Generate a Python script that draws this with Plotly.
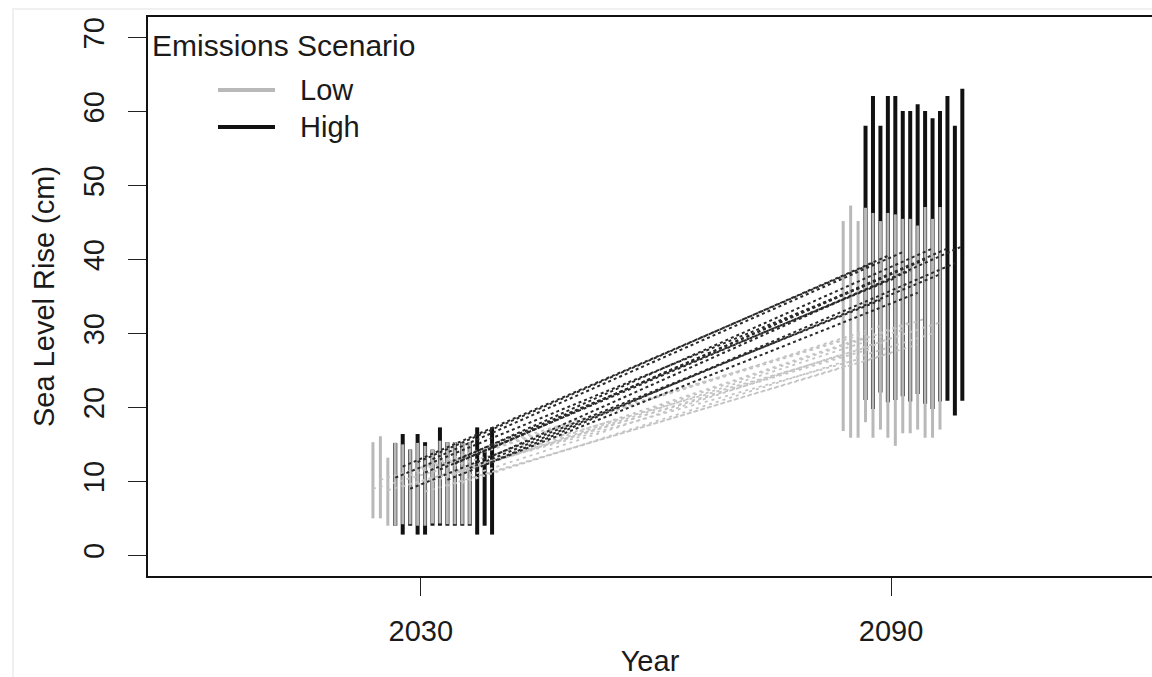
import plotly.graph_objects as go

# ---------------- data ----------------
years = [2030, 2090]
scenarios = ["Low", "High"]

# Low emissions scenario, 14 models: lower bound, median, upper bound (cm)
low_lo_2030 = [5.0, 5.0, 4.0, 4.0, 4.2, 4.2, 4.0, 4.0, 4.3, 4.3, 4.2, 4.2, 4.2, 4.2]
low_med_2030 = [9.0, 10.2, 8.8, 10.5, 9.3, 10.8, 9.6, 8.6, 10.0, 10.6, 9.4, 11.0, 9.8, 10.8]
low_hi_2030 = [15.3, 16.1, 13.2, 15.2, 15.0, 14.3, 15.2, 14.8, 14.3, 15.5, 15.3, 15.3, 15.3, 15.3]

low_lo_2090 = [16.8, 15.9, 15.9, 18.0, 15.9, 17.0, 15.9, 14.8, 16.5, 16.5, 17.0, 15.9, 15.9, 17.0]
low_med_2090 = [27.0, 29.5, 26.5, 30.0, 28.0, 31.0, 29.0, 27.5, 30.5, 31.5, 28.5, 32.0, 30.0, 31.5]
low_hi_2090 = [45.2, 47.3, 45.2, 47.0, 46.3, 45.2, 46.3, 46.1, 45.5, 45.5, 44.6, 47.1, 45.5, 47.1]

# High emissions scenario, 14 models
high_lo_2030 = [4.0, 2.8, 4.0, 2.8, 2.8, 4.0, 4.0, 4.0, 4.0, 4.0, 4.0, 2.8, 4.0, 2.8]
high_med_2030 = [10.5, 12.0, 9.0, 12.6, 11.2, 13.0, 11.6, 10.2, 12.4, 13.2, 11.8, 13.6, 12.2, 13.4]
high_hi_2030 = [15.2, 16.4, 14.3, 16.4, 15.3, 14.3, 17.3, 15.3, 15.3, 15.3, 15.3, 17.3, 14.3, 17.3]

high_lo_2090 = [21.0, 19.8, 22.0, 20.7, 21.0, 21.5, 20.8, 21.8, 20.5, 19.8, 20.8, 20.9, 18.9, 20.9]
high_med_2090 = [36.5, 39.5, 34.5, 40.5, 37.5, 41.0, 38.5, 35.5, 40.0, 41.5, 38.0, 41.5, 39.5, 41.8]
high_hi_2090 = [58.1, 62.1, 58.1, 62.1, 62.1, 60.1, 60.1, 61.0, 60.1, 59.1, 60.1, 62.1, 58.1, 63.1]

x_ticks = [2030, 2090]
y_ticks = [0, 10, 20, 30, 40, 50, 60, 70]

# ---------------- layout helpers ----------------
SLOT = 0.95          # years between neighbouring bars
START = -6.1         # offset of first bar from the nominal year
HIGH_SHIFT = 3       # high-scenario bars are shifted 3 slots right

LOW_BAR = "#b9b9b9"
HIGH_BAR = "#111111"
LOW_LINE = "#c4c4c4"
HIGH_LINE = "#2a2a2a"
TEXT = "#1a1a1a"
FONT = "Liberation Sans, Arial, sans-serif"
FS = 29


def offset(i, shift):
    return START + SLOT * (i + shift)


def segments(year, lo, hi, shift):
    xs, ys = [], []
    for i, (a, b) in enumerate(zip(lo, hi)):
        x = year + offset(i, shift)
        xs += [x, x, None]
        ys += [a, b, None]
    return xs, ys


def links(med_a, med_b, shift):
    xs, ys = [], []
    for i, (a, b) in enumerate(zip(med_a, med_b)):
        xs += [years[0] + offset(i, shift), years[1] + offset(i, shift), None]
        ys += [a, b, None]
    return xs, ys


fig = go.Figure()

# high bars first (wider, black), low bars on top (narrower, grey)
for year, lo, hi in [(2030, high_lo_2030, high_hi_2030), (2090, high_lo_2090, high_hi_2090)]:
    xs, ys = segments(year, lo, hi, HIGH_SHIFT)
    fig.add_trace(go.Scatter(x=xs, y=ys, mode="lines", line=dict(color=HIGH_BAR, width=4),
                             showlegend=False, hoverinfo="skip"))
for year, lo, hi in [(2030, low_lo_2030, low_hi_2030), (2090, low_lo_2090, low_hi_2090)]:
    xs, ys = segments(year, lo, hi, 0)
    fig.add_trace(go.Scatter(x=xs, y=ys, mode="lines", line=dict(color=LOW_BAR, width=3),
                             showlegend=False, hoverinfo="skip"))

# dashed lines joining the medians
xs, ys = links(low_med_2030, low_med_2090, 0)
fig.add_trace(go.Scatter(x=xs, y=ys, mode="lines",
                         line=dict(color=LOW_LINE, width=1.8, dash="3px,4px"),
                         showlegend=False, hoverinfo="skip"))
xs, ys = links(high_med_2030, high_med_2090, HIGH_SHIFT)
fig.add_trace(go.Scatter(x=xs, y=ys, mode="lines",
                         line=dict(color=HIGH_LINE, width=2, dash="3px,3px"),
                         showlegend=False, hoverinfo="skip"))

# ---------------- legend (drawn in paper space) ----------------
W, H = 1152, 677
ML, MR, MT, MB = 148, 0, 17, 101
pw, ph = W - ML - MR, H - MT - MB


def px(xp):
    return (xp - ML) / pw


def py(yp):
    return (H - MB - yp) / ph


annotations = [
    dict(text="Emissions Scenario", x=px(150), y=py(45), xref="paper", yref="paper",
         xanchor="left", yanchor="middle", showarrow=False,
         font=dict(size=30, color=TEXT, family=FONT)),
]
shapes = [
    # faint outer frame of the original picture
    dict(type="rect", xref="paper", yref="paper", x0=px(13), x1=px(1170), y0=py(9), y1=py(690),
         line=dict(color="#ececec", width=1.5), layer="below"),
]
for name, color, yy in [(scenarios[0], LOW_BAR, 90), (scenarios[1], HIGH_BAR, 127)]:
    shapes.append(dict(type="line", xref="paper", yref="paper", x0=px(218), x1=px(275),
                       y0=py(yy), y1=py(yy), line=dict(color=color, width=4)))
    annotations.append(dict(text=name, x=px(298), y=py(yy), xref="paper", yref="paper",
                            xanchor="left", yanchor="middle", showarrow=False,
                            font=dict(size=FS, color=TEXT, family=FONT)))

fig.update_layout(
    width=W, height=H,
    margin=dict(l=ML, r=MR, t=MT, b=MB, autoexpand=False),
    paper_bgcolor="white", plot_bgcolor="white",
    font=dict(family=FONT, size=FS, color=TEXT),
    showlegend=False,
    annotations=annotations,
    shapes=shapes,
    xaxis=dict(range=[1995.2, 2123.3], tickvals=x_ticks, ticktext=[str(t) for t in x_ticks],
               showgrid=False, zeroline=False, showline=True, linecolor="#111", linewidth=2,
               mirror=True, ticks="outside", ticklen=18, tickwidth=1.2, tickcolor="#222",
               ticklabelstandoff=10, automargin=False,
               title=dict(text="Year", standoff=8, font=dict(size=FS))),
    yaxis=dict(range=[-2.8, 72.8], tickvals=y_ticks, showgrid=False, zeroline=False,
               showline=True, linecolor="#111", linewidth=2, mirror=False,
               ticks="outside", ticklen=18, tickwidth=1.2, tickcolor="#222",
               tickangle=-90, ticklabelstandoff=12, automargin=False,
               title=dict(text="Sea Level Rise (cm)", standoff=15, font=dict(size=FS))),
)

fig.write_html("out.html",
               config={"displayModeBar": False},
               post_script="document.body.style.margin='0';document.body.style.overflow='hidden';")
